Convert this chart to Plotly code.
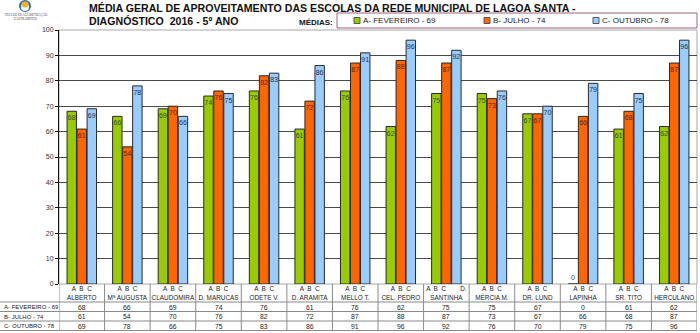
import plotly.graph_objects as go

schools = ["ALBERTO", "Mª AUGUSTA", "CLAUDOMIRA", "D. MARUCAS", "ODETE V.", "D. ARAMITA",
           "MELLO T.", "CEL. PEDRO", "SANTINHA", "MÉRCIA M.", "DR. LUND", "LAPINHA",
           "SR. TITO", "HERCULANO"]
group_letters = ["A  B  C"] * 8 + ["A  B  C        D."] + ["A  B  C"] * 5
series_names = ["A- FEVEREIRO - 69", "B- JULHO - 74", "C- OUTUBRO - 78"]
fevereiro = [68, 66, 69, 74, 76, 61, 76, 62, 75, 75, 67, 0, 61, 62]
julho = [61, 54, 70, 76, 82, 72, 87, 88, 87, 73, 67, 66, 68, 87]
outubro = [69, 78, 66, 75, 83, 86, 91, 96, 92, 76, 70, 79, 75, 96]
y_ticks = list(range(0, 101, 10))

title1 = "MÉDIA GERAL DE APROVEITAMENTO DAS ESCOLAS DA REDE MUNICIPAL DE LAGOA SANTA -"
title2 = "DIAGNÓSTICO  2016 - 5º ANO"
legend_title = "MÉDIAS:"
logo_text = ["NÚCLEO DE ALFABETIZAÇÃO", "E LETRAMENTO"]

W, H = 700, 333
ML, MR, MT, MB = 59, 3, 30, 49
PW, PH = W - ML - MR, H - MT - MB


def X(px):
    return (px - ML) / PW


def Y(py):
    return (H - MB - py) / PH


series = [fevereiro, julho, outubro]
fills = ["#99cc00", "#ff6600", "#99ccff"]
text_colors = ["#2f4f00", "#6b1a00", "#1a2f55"]
FONT = "Liberation Sans, Arial, sans-serif"

fig = go.Figure()
idx = list(range(len(schools)))
for name, vals, fc, tc in zip(series_names, series, fills, text_colors):
    fig.add_trace(go.Bar(
        x=idx, y=vals, name=name,
        marker=dict(color=fc, line=dict(color="#2a2a2a", width=1)),
        text=[str(v) for v in vals],
        textposition=["outside" if v == 0 else "inside" for v in vals],
        insidetextanchor="end",
        textangle=0,
        textfont=dict(size=7, color=tc, family=FONT),
        cliponaxis=False,
        showlegend=False,
    ))

ticktext = [f"{g}<br>{s}" for g, s in zip(group_letters, schools)]

shapes = []
annotations = []

# plot frame (top/right)
shapes.append(dict(type="rect", xref="paper", yref="paper", x0=0, x1=1, y0=0, y1=1,
                   line=dict(color="#a8a8a8", width=1), layer="below"))

# table lines
row_lines = [302, 311.5, 321, 330.5]
for ry in row_lines:
    shapes.append(dict(type="line", xref="paper", yref="paper", x0=X(0), x1=1,
                       y0=Y(ry), y1=Y(ry), line=dict(color="#8a8a8a", width=1)))
for i in range(len(schools) + 1):
    shapes.append(dict(type="line", xref="x", yref="paper", x0=i - 0.5, x1=i - 0.5,
                       y0=0, y1=Y(330.5), line=dict(color="#8a8a8a", width=1)))

# table values
row_text_y = [307, 316.5, 326]
for ry, name, vals in zip(row_text_y, series_names, series):
    annotations.append(dict(xref="paper", yref="paper", x=X(2), y=Y(ry), text=name,
                            showarrow=False, xanchor="left", yanchor="middle",
                            font=dict(size=6, color="#222", family=FONT)))
    for i, v in enumerate(vals):
        annotations.append(dict(xref="x", yref="paper", x=i, y=Y(ry), text=str(v),
                                showarrow=False, xanchor="center", yanchor="middle",
                                font=dict(size=6.8, color="#222", family=FONT)))

# titles
annotations.append(dict(xref="paper", yref="paper", x=X(87), y=Y(8), text=f"<b>{title1}</b>",
                        showarrow=False, xanchor="left", yanchor="middle",
                        font=dict(size=10.6, color="#111", family=FONT)))
annotations.append(dict(xref="paper", yref="paper", x=X(87), y=Y(21), text=f"<b>{title2}</b>",
                        showarrow=False, xanchor="left", yanchor="middle",
                        font=dict(size=10.6, color="#111", family=FONT)))
annotations.append(dict(xref="paper", yref="paper", x=X(335), y=Y(22), text=f"<b>{legend_title}</b>",
                        showarrow=False, xanchor="right", yanchor="middle",
                        font=dict(size=8, color="#111", family=FONT)))

# manual legend
shapes.append(dict(type="rect", xref="paper", yref="paper", x0=X(337), x1=X(697),
                   y0=Y(28), y1=Y(13), line=dict(color="#a0607f", width=1), fillcolor="white"))
leg_x = [357, 487, 596]
for lx, name, fc in zip(leg_x, series_names, fills):
    shapes.append(dict(type="rect", xref="paper", yref="paper", x0=X(lx - 3), x1=X(lx + 3),
                       y0=Y(23.5), y1=Y(17.5), line=dict(color="#555", width=1), fillcolor=fc))
    annotations.append(dict(xref="paper", yref="paper", x=X(lx + 4), y=Y(20.5), text=name,
                            showarrow=False, xanchor="left", yanchor="middle",
                            font=dict(size=8, color="#222", family=FONT)))

# logo
shapes.append(dict(type="circle", xref="paper", yref="paper", x0=X(19), x1=X(31), y0=Y(12), y1=Y(0),
                   line=dict(width=0), fillcolor="#1f6fc4"))
shapes.append(dict(type="circle", xref="paper", yref="paper", x0=X(21), x1=X(29), y0=Y(11), y1=Y(3),
                   line=dict(width=0), fillcolor="white"))
shapes.append(dict(type="circle", xref="paper", yref="paper", x0=X(21.5), x1=X(28.5), y0=Y(7.5), y1=Y(1.2),
                   line=dict(width=0), fillcolor="#f5b21a"))
annotations.append(dict(xref="paper", yref="paper", x=X(26), y=Y(14.5), text=logo_text[0],
                        showarrow=False, xanchor="center", yanchor="middle",
                        font=dict(size=3, color="#445", family="Liberation Serif, serif")))
annotations.append(dict(xref="paper", yref="paper", x=X(26), y=Y(18.5), text=logo_text[1],
                        showarrow=False, xanchor="center", yanchor="middle",
                        font=dict(size=3, color="#445", family="Liberation Serif, serif")))

fig.update_layout(
    width=W, height=H,
    margin=dict(l=ML, r=MR, t=MT, b=MB, pad=0),
    paper_bgcolor="white", plot_bgcolor="white",
    barmode="group", bargap=0.34, bargroupgap=0.06,
    font=dict(family=FONT, size=7, color="#333"),
    uniformtext=dict(mode="show", minsize=7),
    shapes=shapes, annotations=annotations,
    xaxis=dict(range=[-0.5, len(schools) - 0.5], tickmode="array", tickvals=idx, ticktext=ticktext,
               tickangle=0, automargin=False,
               showgrid=False, zeroline=False, showline=False, ticks="",
               tickfont=dict(size=6.4, color="#222", family=FONT), fixedrange=True),
    yaxis=dict(range=[0, 100], tickvals=y_ticks, showgrid=True, gridcolor="#4a4a4a", gridwidth=1,
               zeroline=False, showline=True, linecolor="#111", linewidth=1, automargin=False,
               ticks="outside", ticklen=3, tickcolor="#111",
               tickfont=dict(size=7, color="#333", family=FONT), fixedrange=True),
)

fig.write_html("out.html", config={"displayModeBar": False},
               post_script="document.body.style.margin='0';document.body.style.padding='0';")
